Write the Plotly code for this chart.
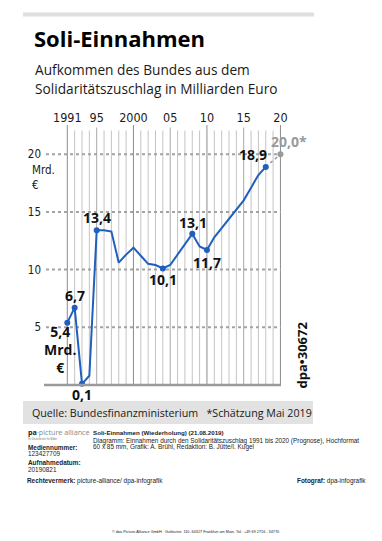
import plotly.graph_objects as go

# ---------------- data ----------------
years = list(range(1991, 2019))
values = [5.4, 6.7, 0.1, 0.8, 13.4, 13.4, 13.3, 10.6, 11.3, 11.9, 11.2, 10.5,
          10.4, 10.1, 10.4, 11.3, 12.3, 13.1, 12.0, 11.7, 12.8, 13.6, 14.4,
          15.2, 16.0, 17.1, 18.2, 18.9]
forecast_years = [2018, 2020]
forecast_values = [18.9, 20.0]

label_years = [1991, 1992, 1993, 1995, 2004, 2008, 2010, 2018]
label_texts = ["5,4<br>Mrd.<br>€", "6,7", "0,1", "13,4", "10,1", "13,1", "11,7", "18,9"]
forecast_label = "20,0*"

x_tick_years = [1991, 1995, 2000, 2005, 2010, 2015, 2020]
x_tick_text = ["1991", "95", "2000", "05", "10", "15", "20"]
y_ticks = [5, 10, 15, 20]
y_tick_text = ["5", "10", "15", "20"]
grid_years = list(range(1991, 2021))

# ---------------- layout geometry ----------------
# the page body has an 8 px margin, so the figure is drawn 8 px in from the window corner
OFF = 8
W, H = 382 - 2 * OFF, 541 - 2 * OFF
L, R, T, B = 43 - OFF, 281 - OFF, 125 - OFF, 385 - OFF
PX_YEAR = 7.35
X1991 = 67.3 - OFF
PX_UNIT = 11.54
x_range = [1991 - (X1991 - L) / PX_YEAR, 2020 + (R - (X1991 + 29 * PX_YEAR)) / PX_YEAR]
y_range = [0, (B - T) / PX_UNIT]


def pxx(px):  # window pixel -> paper x
    return (px - OFF - L) / (R - L)


def pxy(py):  # window pixel -> paper y
    return (B - (py - OFF)) / (B - T)


def px_to_year(px):
    return 1991 + (px - OFF - X1991) / PX_YEAR


BLUE = "#1f5fbe"
GREY = "#9a9a9a"
TXT = "#1a1a1a"
SANS = "Open Sans, Noto Sans, sans-serif"
COND = "DejaVu Sans Condensed, Open Sans, sans-serif"
ARIAL = "Liberation Sans, Arial, sans-serif"

fig = go.Figure()

# vertical year lines
groups = {"decade": ([], [], 125, "#8c8c8c"), "five": ([], [], 127.5, "#a8a8a8"),
          "minor": ([], [], 130.5, "#c4c4c4")}
for yr in grid_years:
    if yr in (1991, 2000, 2010, 2020):
        g = "decade"
    elif yr % 5 == 0:
        g = "five"
    else:
        g = "minor"
    xs, ys, top_px, col = groups[g]
    xs += [yr, yr, None]
    ys += [0, (385 - top_px) / PX_UNIT, None]
for g, (xs, ys, top_px, col) in groups.items():
    fig.add_trace(go.Scatter(x=xs, y=ys, mode="lines", line=dict(color=col, width=1),
                             hoverinfo="skip", showlegend=False))

# horizontal dashed grid lines at the y ticks (one trace for all levels)
gx, gy = [], []
for v in y_ticks:
    gx += [px_to_year(46), x_range[1], None]
    gy += [v, v, None]
fig.add_trace(go.Scatter(x=gx, y=gy, mode="lines",
                         line=dict(color="#a3a3a3", width=2, dash="3px,3px"),
                         hoverinfo="skip", showlegend=False))

# forecast dotted line
fig.add_trace(go.Scatter(
    x=forecast_years, y=forecast_values, mode="lines",
    line=dict(color=GREY, width=1.6, dash="dot"),
    hoverinfo="skip", cliponaxis=False, showlegend=False))
fig.add_trace(go.Scatter(
    x=[forecast_years[-1]], y=[forecast_values[-1]], mode="markers",
    marker=dict(color=GREY, size=6), cliponaxis=False, showlegend=False))

# main line
fig.add_trace(go.Scatter(
    x=years, y=values, mode="lines",
    line=dict(color=BLUE, width=2), cliponaxis=False, showlegend=False))
lab_vals = [values[years.index(y)] for y in label_years]
fig.add_trace(go.Scatter(
    x=label_years, y=lab_vals, mode="markers",
    marker=dict(color=BLUE, size=6), cliponaxis=False, showlegend=False))

shapes = []
# baseline (filled bar along y = 0)
shapes.append(dict(type="rect", xref="paper", yref="paper",
                   x0=pxx(44), x1=pxx(281), y0=pxy(386.2), y1=pxy(383.7),
                   fillcolor="#9a9a9a", line=dict(width=0), layer="above"))
# top grey bar
shapes.append(dict(type="rect", xref="paper", yref="paper",
                   x0=pxx(23), x1=pxx(314), y0=pxy(16.5), y1=pxy(12.5),
                   fillcolor="#dedede", line=dict(width=0), layer="below"))
# source box
shapes.append(dict(type="rect", xref="paper", yref="paper",
                   x0=pxx(23), x1=pxx(313), y0=pxy(424), y1=pxy(401),
                   fillcolor="#e2e2e2", line=dict(width=0), layer="below"))

annotations = []

# title & subtitle
annotations.append(dict(text="<b>Soli-Einnahmen</b>", xref="paper", yref="paper",
                        x=pxx(32), y=pxy(38), xanchor="left", yanchor="middle",
                        showarrow=False, font=dict(family=SANS, size=22, color="#000")))
annotations.append(dict(text="Aufkommen des Bundes aus dem", xref="paper", yref="paper",
                        x=pxx(33), y=pxy(69), xanchor="left", yanchor="middle",
                        showarrow=False, font=dict(family=SANS, size=13.7, color=TXT)))
annotations.append(dict(text="Solidaritätszuschlag in Milliarden Euro", xref="paper", yref="paper",
                        x=pxx(33), y=pxy(88), xanchor="left", yanchor="middle",
                        showarrow=False, font=dict(family=SANS, size=13.7, color=TXT)))

# unit under 20
annotations.append(dict(text="Mrd.<br>€", xref="paper", yref="paper", x=pxx(30), y=pxy(177.5),
                        xanchor="left", yanchor="middle", align="left", showarrow=False,
                        font=dict(family=COND, size=11.5, color=TXT)))

# value labels (pixel offsets from their points)
offsets = {1991: (-7, -27), 1992: (0, 12), 1993: (0, -11), 1995: (0, 13),
           2004: (0, -11.5), 2008: (1, 11), 2010: (0, -13), 2018: (-13, 12)}
for yr, txt, v in zip(label_years, label_texts, lab_vals):
    dx, dy = offsets[yr]
    annotations.append(dict(text="<b>%s</b>" % txt.replace("<br>", "</b><br><b>"),
                            x=yr, y=v, xref="x", yref="y",
                            xshift=dx, yshift=dy, showarrow=False,
                            font=dict(family=SANS, size=14, color="#111")))
annotations.append(dict(text="<b>%s</b>" % forecast_label, x=forecast_years[-1], y=forecast_values[-1],
                        xref="x", yref="y", xshift=8.5, yshift=12.5, showarrow=False,
                        font=dict(family=SANS, size=14, color=GREY)))

# dpa code
annotations.append(dict(text="<b>dpa•30672</b>", xref="paper", yref="paper",
                        x=pxx(301.5), y=pxy(355), textangle=-90, showarrow=False,
                        xanchor="center", yanchor="middle",
                        font=dict(family=SANS, size=13, color="#111")))

# source line
annotations.append(dict(text="Quelle: Bundesfinanzministerium   *Schätzung Mai 2019",
                        xref="paper", yref="paper", x=pxx(30), y=pxy(412.5),
                        xanchor="left", yanchor="middle", showarrow=False,
                        font=dict(family=SANS, size=10.7, color=TXT)))


def meta(text, px, py, size=6.4, color="#222", anchor="left", family=ARIAL):
    annotations.append(dict(text=text, xref="paper", yref="paper", x=pxx(px), y=pxy(py),
                            xanchor=anchor, yanchor="middle", showarrow=False,
                            font=dict(family=family, size=size, color=color)))


meta("<b>pa</b><span style='color:#888'>·picture alliance</span>", 25.5, 432, size=7.2, family=SANS)
meta("Ihr Dienstleister für Bilder", 26, 439, size=2.6, color="#777")
meta("<b>Mediennummer:</b>", 26, 447)
meta("123427709", 26, 453)
meta("<b>Aufnahmedatum:</b>", 26, 462.5)
meta("20190821", 26, 469)
meta("<b>Rechtevermerk:</b> picture-alliance/ dpa-infografik", 25, 481)
meta("<b>Soli-Einnahmen (Wiederholung) (21.08.2019)</b>", 90.5, 432, size=6.2)
meta("Diagramm: Einnahmen durch den Solidaritätszuschlag 1991 bis 2020 (Prognose), Hochformat", 90.5, 440.5)
meta("60 x 85 mm, Grafik: A. Brühl, Redaktion: B. Jütte/I. Kugel", 90.5, 446.5)
meta("<b>Fotograf:</b> dpa-infografik", 368, 481, anchor="right")
meta("© dpa Picture-Alliance GmbH · Gutleutstr. 110, 60327 Frankfurt am Main, Tel.: +49 69 2716 - 34770",
     195, 531.5, size=3.8, anchor="center")

fig.update_layout(
    width=W, height=H, autosize=False,
    margin=dict(l=L, r=W - R, t=T, b=H - B, pad=0),
    paper_bgcolor="white", plot_bgcolor="white",
    showlegend=False, shapes=shapes, annotations=annotations,
    xaxis=dict(range=x_range, side="top", tickvals=x_tick_years, ticktext=x_tick_text,
               showgrid=False, zeroline=False, showline=False, ticks="",
               tickfont=dict(family=COND, size=12.5, color=TXT), fixedrange=True),
    yaxis=dict(range=y_range, tickvals=y_ticks, ticktext=y_tick_text,
               showgrid=False, zeroline=False, showline=False, ticks="",
               ticklabelstandoff=1,
               tickfont=dict(family=COND, size=11.5, color=TXT), fixedrange=True),
)

fig.write_html("out.html")
